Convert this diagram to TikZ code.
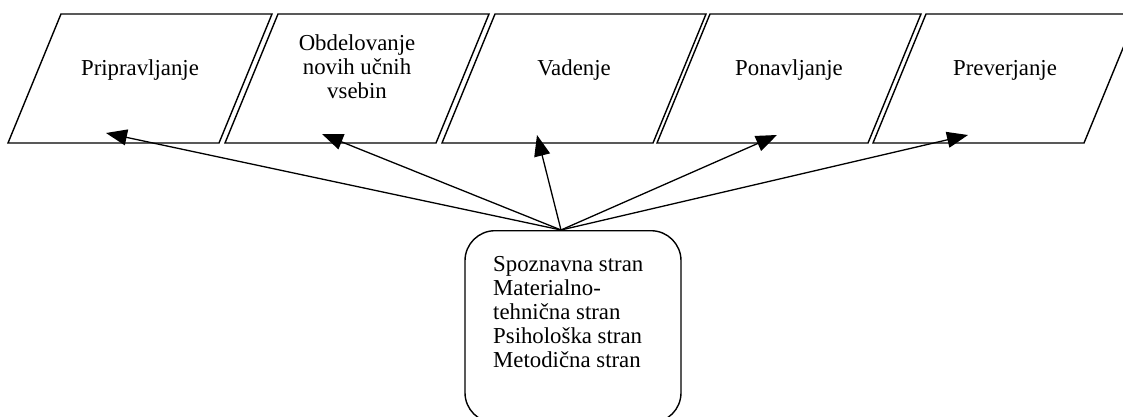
\documentclass[tikz,border=0pt]{standalone}
\usepackage{fontspec}
\setmainfont{Liberation Serif}
\usetikzlibrary{arrows.meta,calc}
\begin{document}
\begin{tikzpicture}[x=1pt,y=-1pt,
  phase/.style={draw, line width=1.4pt, line join=miter},
  lbl/.style={inner sep=0pt, font=\fontsize{22.8}{24}\selectfont, align=center},
  link/.style={line width=1.3pt, -{Triangle[length=21pt,width=16pt]}}]
\useasboundingbox (0,0) rectangle (1123,417);
\clip (0,0) rectangle (1123,417);

% five stage parallelograms (bottom-left x, 211 wide, slanted 53 over 129)
\foreach \bl in {8,225,442,657,873}{
  \draw[phase] (\bl,143) -- (\bl+211,143) -- (\bl+264,14) -- (\bl+53,14) -- cycle;
}

% stage names
\node[lbl, anchor=base]  (p1) at (140,75.5) {Pripravljanje};
\node[lbl, anchor=north] (p2) at (357,34.6) {Obdelovanje\\novih učnih\\vsebin};
\node[lbl, anchor=base]  (p3) at (574,75.5) {Vadenje};
\node[lbl, anchor=base]  (p4) at (789,75.5) {Ponavljanje};
\node[lbl, anchor=base]  (p5) at (1005,75.5) {Preverjanje};

% arrow tips inside the stages
\coordinate (t1) at (106,133);
\coordinate (t2) at (322,134);
\coordinate (t3) at (537,135);
\coordinate (t4) at (777,135);
\coordinate (t5) at (968,135);

% rounded box with the aspects
\node[draw, line width=1.4pt, rounded corners=30pt, minimum width=216pt,
      minimum height=192pt, anchor=north] (box) at (573,230) {};
\node[lbl, align=left, anchor=north west] (aspects) at (493,256.5)
  {Spoznavna stran\\Materialno-\\tehnična stran\\Psihološka stran\\Metodična stran};

\coordinate (hub) at ($(box.north)+(-12,0)$);

\foreach \t in {t1,t2,t3,t4,t5}{
  \draw[link] (hub) -- (\t);
}
\end{tikzpicture}
\end{document}
